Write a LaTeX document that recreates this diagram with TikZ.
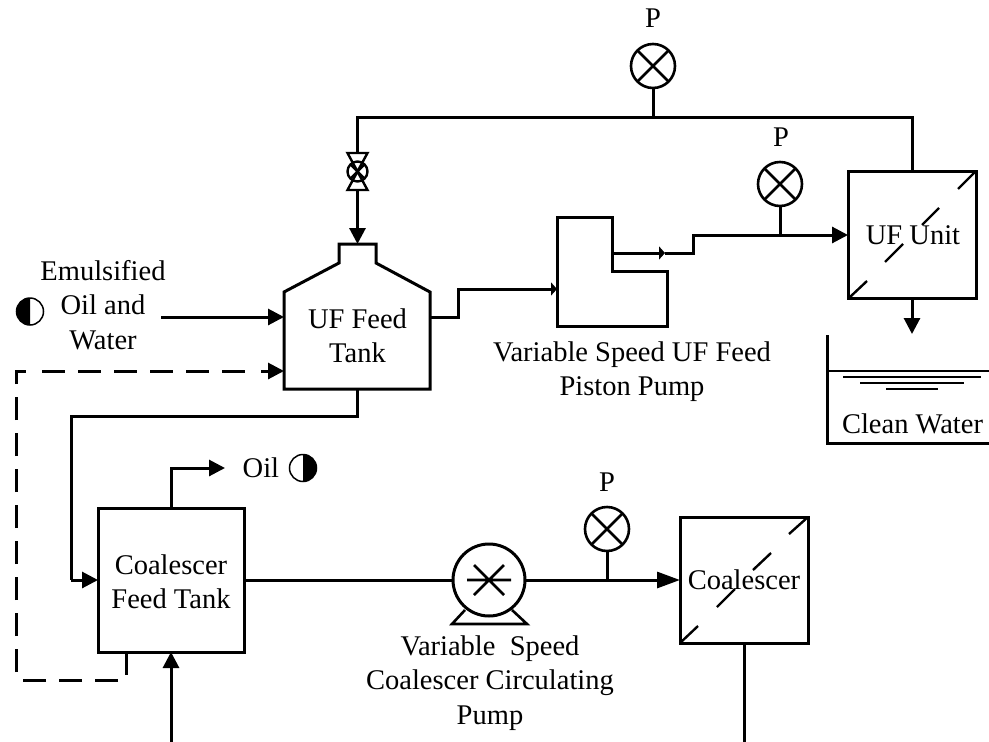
\documentclass[tikz,border=0pt]{standalone}
\usepackage{fontspec}
\setmainfont{Liberation Serif}
\usetikzlibrary{arrows.meta}
\tikzset{
  pipe/.style={line width=3pt,line join=miter},
  flow/.style={pipe,-{Triangle[length=16pt,width=16pt]}},
  longflow/.style={pipe,-{Triangle[length=23pt,width=16pt]}},
  smallflow/.style={pipe,-{Triangle[length=6pt,width=13pt]}},
  dashpipe/.style={pipe,dash pattern=on 23pt off 13pt},
  unitbox/.style={draw,line width=3pt,rectangle,inner sep=0pt,outer sep=0pt},
  gauge/.style={draw,line width=2.6pt,circle,inner sep=0pt,outer sep=0pt,minimum size=44pt,
    path picture={\draw[line width=2.6pt] (path picture bounding box.north west)--(path picture bounding box.south east)
      (path picture bounding box.north east)--(path picture bounding box.south west);}},
  halfdisc/.style={draw,line width=1.5pt,circle,inner sep=0pt,outer sep=0pt,minimum size=27pt},
  label/.style={font=\fontsize{28.5pt}{34.3pt}\selectfont,align=center,inner sep=0pt},
  memb/.style={line width=2.4pt},
}
\begin{document}
\begin{tikzpicture}[x=1pt,y=-1pt]
\useasboundingbox (0,0) rectangle (989,742);
% equipment
\draw[pipe] (339,263)--(339,244)--(376,244)--(376,263)--(430,292)--(430,389)--(284,389)--(284,292)--cycle;
\coordinate (tankTop) at (357.5,244);
\coordinate (tankIn) at (284,317);
\coordinate (tankRecycle) at (284,371);
\coordinate (tankOut) at (430,317);
\coordinate (tankBottom) at (357.5,389);
\node[label] (tUF) at (357.5,335.5) {UF Feed\\Tank};
\draw[pipe] (557,217)--(612,217)--(612,271)--(667,271)--(667,326)--(557,326)--cycle;
\coordinate (pistonIn) at (557,289);
\coordinate (pistonOut) at (612,253);
\node[label] (tPiston) at (632,371.5) {Variable Speed UF Feed\\Piston Pump};
\node[unitbox,minimum width=128pt,minimum height=127pt] (uf) at (912,235) {};
\node[label] (tUFU) at (913,235) {UF Unit};
\node[unitbox,minimum width=146pt,minimum height=144pt] (cft) at (171,580) {};
\node[label] (tCFT) at (171,581.5) {Coalescer\\Feed Tank};
\node[unitbox,minimum width=128pt,minimum height=126pt] (coal) at (744,580) {};
\node[label] (tCoal) at (744,580) {Coalescer};
% membrane marks
\draw[memb] (850,297)--(867,281) (885,262)--(903,244) (922,225)--(939,208) (958,189)--(976,171);
\draw[memb] (680,643)--(698,626) (717,607)--(735,589) (753,570)--(771,553) (789,534)--(808,517);
% gauges
\node[gauge] (g1) at (653,66) {};
\node[gauge] (g2) at (780,184) {};
\node[gauge] (g3) at (607,529) {};
\node[label] (p1) at (653,18) {P};
\node[label] (p2) at (781,137) {P};
\node[label] (p3) at (607,482) {P};
% valve
\node[draw,line width=2.4pt,circle,inner sep=0pt,outer sep=0pt,minimum size=20pt,
  path picture={\draw[line width=2.2pt] (path picture bounding box.north west)--(path picture bounding box.south east)
  (path picture bounding box.north east)--(path picture bounding box.south west);}] (valve) at (357.5,171.5) {};
\draw[line width=2.4pt] (347.5,153)--(367.5,153)--(347.5,190)--(367.5,190)--cycle;
\coordinate (valveTop) at (357.5,153);
\coordinate (valveBot) at (357.5,190);
% pump
\node[draw,line width=3pt,circle,inner sep=0pt,outer sep=0pt,minimum size=72pt] (pump) at (489,580) {};
\draw[line width=2.6pt] (467,580)--(511,580) (474,565)--(504,595) (474,595)--(504,565);
\draw[line width=2.6pt] (465,610)--(452,624)--(527,624)--(512,610);
\node[label] (tPump) at (490,683) {Variable\ \ Speed\\Coalescer Circulating\\Pump};
% clean water tank
\draw[pipe] (827,335)--(827,443)--(989,443);
\draw[line width=2.4pt] (827,371)--(989,371);
\draw[line width=2.2pt] (843,377)--(981,377) (860,383)--(964,383) (886,389)--(938,389);
\node[label] (tClean) at (912.5,424) {Clean Water};
\coordinate (basin) at (912,334);
% inlets and outlets
\node[label] (tEmul) at (103,305) {Emulsified\\Oil and\\Water};
\node[halfdisc] (h1) at (30,311.5) {};
\fill (h1.north) arc[start angle=90,end angle=270,radius=13.5pt];
\node[label,anchor=west] (tOil) at (242.5,468) {Oil};
\node[halfdisc] (h2) at (303,468) {};
\fill (h2.north) arc[start angle=90,end angle=-90,radius=13.5pt];
\coordinate (feedStart) at (161,317);
\coordinate (oilEnd) at (225,468);
\coordinate (rawIn) at (171,742);
\coordinate (coalOut) at (744,742);
% connectors
\draw[pipe] (g1.south)--(653,117);
\draw[pipe] (uf.north)--(912,117)--(357.5,117)--(valveTop);
\draw[flow] (valveBot)--(tankTop);
\draw[flow] (feedStart)--(tankIn);
% recycle line, drawn in stretches so that the dashes fall as in the drawing
\draw[pipe] (126,652)--(126,675);
\draw[dashpipe] (118,680)--(22,680);
\draw[dashpipe] (16,672)--(16,371)--(29,371);
\draw[dashpipe] (42,371)--(250,371);
\draw[flow] (261,371)--(tankRecycle);
\draw[pipe] (tankBottom)--(357.5,416)--(71,416)--(71,580);
\draw[flow] (71,580)--(cft.west);
\draw[pipe] (tankOut)--(458,317)--(458,289)--(548,289);
\draw[smallflow] (540,289)--(pistonIn);
\draw[smallflow] (pistonOut)--(665,253);
\draw[pipe] (665,253)--(693,253)--(693,235)--(780,235);
\draw[flow] (780,235)--(uf.west);
\draw[pipe] (g2.south)--(780,235);
\draw[flow] (uf.south)--(basin);
\draw[flow] (cft.north)--(171,468)--(oilEnd);
\draw[flow] (rawIn)--(cft.south);
\draw[pipe] (cft.east)--(pump.west);
\draw[longflow] (pump.east)--(coal.west);
\draw[pipe] (g3.south)--(607,580);
\draw[pipe] (coal.south)--(coalOut);
\end{tikzpicture}
\end{document}
